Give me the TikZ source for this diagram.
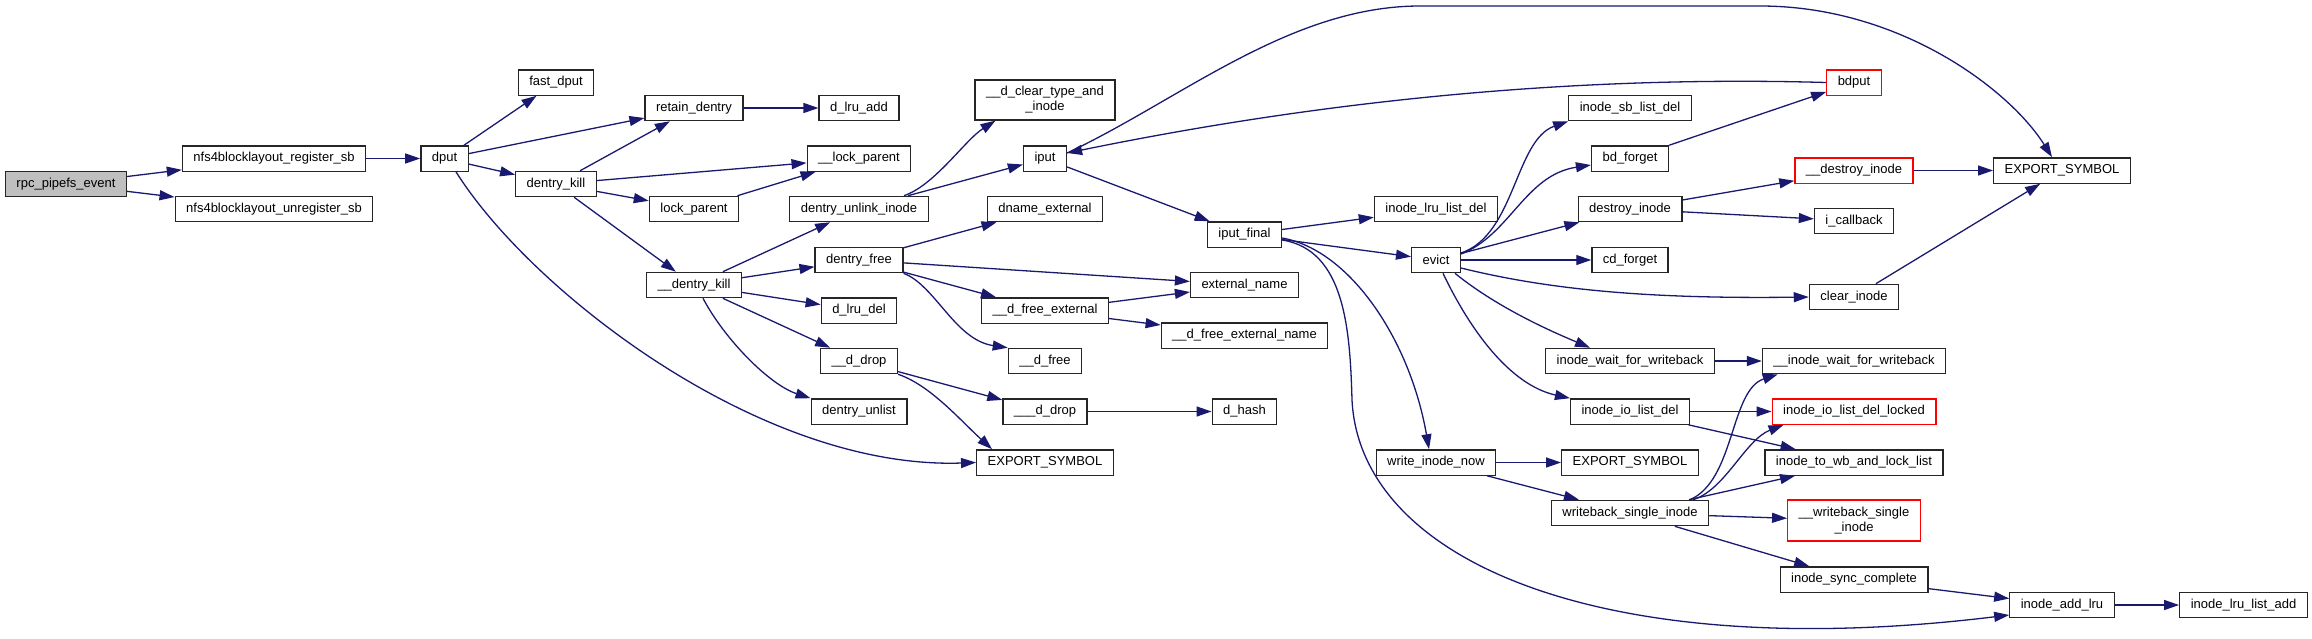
\documentclass[tikz,border=0pt]{standalone}
\usepackage{fontspec}
\setmainfont{Liberation Sans}
\usetikzlibrary{arrows.meta}

\definecolor{edgeblue}{HTML}{191970}
\definecolor{rootgray}{HTML}{BFBFBF}

\begin{document}
\begin{tikzpicture}[
    x=0.5pt,
    y=-0.5pt,
    >={Triangle[length=7.5pt, width=5pt]},
    func/.style={
        draw=black!85,
        line width=0.65pt,
        fill=white,
        font=\fontsize{6.5}{7.5}\selectfont,
        inner xsep=5.5pt,
        inner ysep=2pt,
        minimum height=12.65pt,
        align=center
    },
    root/.style={
        func,
        fill=rootgray
    },
    trunc/.style={
        func,
        draw=red
    },
    call/.style={
        ->,
        draw=edgeblue,
        line width=0.65pt
    }
]

\useasboundingbox (0,0) rectangle (2312,638);

% Horizontal positions of the ranks
\def\RootX{66}
\def\SbX{274}
\def\DputX{444.5}
\def\KillX{556}
\def\RetainX{694}
\def\LruAddX{859}
\def\IputX{1045}
\def\FinalX{1244.5}
\def\EvictX{1436}
\def\ForgetX{1630}
\def\BdputX{1854}
\def\ExportX{2062}
\def\LruListX{2243.5}

% ==================================================
% Functions
% ==================================================

\node[root] (rpcEvent) at (\RootX,184) {rpc\_pipefs\_event};

\node[func] (registerSb) at (\SbX,158.5) {nfs4blocklayout\_register\_sb};
\node[func] (unregisterSb) at (\SbX,209) {nfs4blocklayout\_unregister\_sb};

\node[func] (dput) at (\DputX,158.5) {dput};

\node[func] (fastDput) at (\KillX,82.5) {fast\_dput};
\node[func] (dentryKill) at (\KillX,184) {dentry\_kill};

\node[func] (retainDentry) at (\RetainX,108) {retain\_dentry};
\node[func] (lockParent) at (\RetainX,209) {lock\_parent};
\node[func] (uDentryKill) at (\RetainX,285) {\_\_dentry\_kill};

\node[func] (dLruAdd) at (\LruAddX,108) {d\_lru\_add};
\node[func] (uLockParent) at (\LruAddX,158.5) {\_\_lock\_parent};
\node[func] (unlinkInode) at (\LruAddX,209) {dentry\_unlink\_inode};
\node[func] (dentryFree) at (\LruAddX,260) {dentry\_free};
\node[func] (dLruDel) at (\LruAddX,310.5) {d\_lru\_del};
\node[func] (uDDrop) at (\LruAddX,361) {\_\_d\_drop};
\node[func] (dentryUnlist) at (\LruAddX,411.5) {dentry\_unlist};

\node[func, minimum height=20pt] (clearType) at (\IputX,100)
    {\_\_d\_clear\_type\_and\\\_inode};
\node[func] (iput) at (\IputX,158.5) {iput};
\node[func] (dnameExternal) at (\IputX,209) {dname\_external};
\node[func] (uFreeExternal) at (\IputX,310.5) {\_\_d\_free\_external};
\node[func] (uDFree) at (\IputX,361) {\_\_d\_free};
\node[func] (uuDDrop) at (\IputX,411.5) {\_\_\_d\_drop};
\node[func] (exportLeft) at (\IputX,462.5) {EXPORT\_SYMBOL};

\node[func] (iputFinal) at (\FinalX,234.5) {iput\_final};
\node[func] (externalName) at (\FinalX,285) {external\_name};
\node[func] (uFreeExternalName) at (\FinalX,335.5) {\_\_d\_free\_external\_name};
\node[func] (dHash) at (\FinalX,411.5) {d\_hash};

\node[func] (lruListDel) at (\EvictX,209) {inode\_lru\_list\_del};
\node[func] (evict) at (\EvictX,260) {evict};
\node[func] (writeInodeNow) at (\EvictX,462.5) {write\_inode\_now};

\node[func] (sbListDel) at (\ForgetX,108) {inode\_sb\_list\_del};
\node[func] (bdForget) at (\ForgetX,158.5) {bd\_forget};
\node[func] (destroyInode) at (\ForgetX,209) {destroy\_inode};
\node[func] (cdForget) at (\ForgetX,260) {cd\_forget};
\node[func] (waitWriteback) at (\ForgetX,361) {inode\_wait\_for\_writeback};
\node[func] (ioListDel) at (\ForgetX,411.5) {inode\_io\_list\_del};
\node[func] (exportMid) at (\ForgetX,462.5) {EXPORT\_SYMBOL};
\node[func] (wbSingle) at (\ForgetX,513) {writeback\_single\_inode};

\node[trunc] (bdput) at (\BdputX,82.5) {bdput};
\node[trunc] (uDestroyInode) at (\BdputX,170.5) {\_\_destroy\_inode};
\node[func] (iCallback) at (\BdputX,221) {i\_callback};
\node[func] (clearInode) at (\BdputX,297) {clear\_inode};
\node[func] (uWaitWriteback) at (\BdputX,361) {\_\_inode\_wait\_for\_writeback};
\node[trunc] (ioListDelLocked) at (\BdputX,411.5) {inode\_io\_list\_del\_locked};
\node[func] (toWbLock) at (\BdputX,462.5) {inode\_to\_wb\_and\_lock\_list};
\node[trunc, minimum height=20.5pt] (uWbSingle) at (\BdputX,520.5)
    {\_\_writeback\_single\\\_inode};
\node[func] (syncComplete) at (\BdputX,579.5) {inode\_sync\_complete};

\node[func] (exportRight) at (\ExportX,170.5) {EXPORT\_SYMBOL};
\node[func] (addLru) at (\ExportX,605) {inode\_add\_lru};

\node[func] (lruListAdd) at (\LruListX,605) {inode\_lru\_list\_add};

% ==================================================
% Calls
% ==================================================

% rpc_pipefs_event and dput
\draw[call] (rpcEvent) -- (registerSb);
\draw[call] (rpcEvent) -- (unregisterSb);
\draw[call] (registerSb) -- (dput);
\draw[call] (dput) -- (fastDput);
\draw[call] (dput) -- (retainDentry);
\draw[call] (dput) -- (dentryKill);
\draw[call] ([xshift=5.75pt]dput.south)
    .. controls (530,290) and (760,470) .. (exportLeft.west);

% dentry_kill
\draw[call] (retainDentry) -- (dLruAdd);
\draw[call] (dentryKill) -- (retainDentry);
\draw[call] (dentryKill) -- (uLockParent);
\draw[call] (dentryKill) -- (lockParent);
\draw[call] (dentryKill) -- (uDentryKill);
\draw[call] (lockParent) -- (uLockParent);

% __dentry_kill
\draw[call] (uDentryKill) -- (unlinkInode);
\draw[call] (uDentryKill) -- (dentryFree);
\draw[call] (uDentryKill) -- (dLruDel);
\draw[call] (uDentryKill) -- (uDDrop);
\draw[call] ([xshift=4.5pt]uDentryKill.south)
    .. controls (725,340) and (770,385) .. (dentryUnlist.north west);

% dentry_unlink_inode
\draw[call] (unlinkInode) -- (iput);
\draw[call] ([xshift=22.5pt]unlinkInode.north)
    .. controls (935,185) and (965,140) .. ([xshift=10.5pt]clearType.south west);

% dentry_free
\draw[call] (dentryFree) -- (dnameExternal);
\draw[call] (dentryFree) -- (externalName);
\draw[call] (dentryFree) -- (uFreeExternal);
\draw[call] (dentryFree.south east)
    .. controls (935,285) and (955,340) .. (uDFree.north west);
\draw[call] (uFreeExternal) -- (externalName);
\draw[call] (uFreeExternal) -- (uFreeExternalName);

% __d_drop
\draw[call] (uDDrop) -- (uuDDrop);
\draw[call] (uDDrop.south east)
    .. controls (930,385) and (960,420) .. ([xshift=8pt]exportLeft.north west);
\draw[call] (uuDDrop) -- (dHash);

% iput and bdput
\draw[call] (iput) -- (iputFinal);
\draw[call] ([yshift=2.75pt]iput.east)
    .. controls (1180,100) and (1290,6) .. (1420,6)
    -- (1760,6)
    .. controls (1900,6) and (2010,90) .. ([xshift=-5pt]exportRight.north);
\draw[call] (bdput.west)
    .. controls (1600,76) and (1350,95) .. ([yshift=2.75pt]iput.east);

% iput_final
\draw[call] (iputFinal) -- (lruListDel);
\draw[call] (iputFinal) -- (evict);
\draw[call] ([yshift=-1.75pt]iputFinal.east)
    .. controls (1350,250) and (1410,340) .. ([xshift=-3.5pt]writeInodeNow.north);
\draw[call] ([yshift=-2.75pt]iputFinal.east)
    .. controls (1345,250) and (1350,330) .. (1352,400)
    .. controls (1360,560) and (1600,665) .. ([yshift=-5pt]addLru.west);

% evict
\draw[call] ([yshift=3.5pt]evict.east)
    .. controls (1515,235) and (1515,140) .. (sbListDel.south west);
\draw[call] ([yshift=3pt]evict.east)
    .. controls (1510,235) and (1525,175) .. ([yshift=-3.25pt]bdForget.west);
\draw[call] (evict) -- (destroyInode);
\draw[call] (evict) -- (cdForget);
\draw[call] ([yshift=-4pt]evict.east)
    .. controls (1550,290) and (1650,299) .. (clearInode.west);
\draw[call] ([xshift=9.5pt]evict.south)
    .. controls (1500,310) and (1560,335) .. ([xshift=-20pt]waitWriteback.north);
\draw[call] ([xshift=3.5pt]evict.south)
    .. controls (1470,330) and (1510,385) .. (ioListDel.north west);

% callees of evict
\draw[call] (bdForget) -- (bdput);
\draw[call] (destroyInode) -- (uDestroyInode);
\draw[call] (destroyInode) -- (iCallback);
\draw[call] (uDestroyInode) -- (exportRight);
\draw[call] (clearInode) -- (exportRight);
\draw[call] (waitWriteback) -- (uWaitWriteback);
\draw[call] (ioListDel) -- (ioListDelLocked);
\draw[call] (ioListDel) -- (toWbLock);

% write_inode_now and writeback_single_inode
\draw[call] (writeInodeNow) -- (exportMid);
\draw[call] (writeInodeNow) -- (wbSingle);
\draw[call] ([xshift=30pt]wbSingle.north)
    .. controls (1735,480) and (1730,390) .. ([xshift=8pt]uWaitWriteback.south west);
\draw[call] ([xshift=31.5pt]wbSingle.north)
    .. controls (1725,490) and (1745,440) .. ([xshift=6pt]ioListDelLocked.south west);
\draw[call] (wbSingle) -- (toWbLock);
\draw[call] (wbSingle) -- (uWbSingle);
\draw[call] (wbSingle) -- (syncComplete);
\draw[call] (syncComplete) -- (addLru);
\draw[call] (addLru) -- (lruListAdd);

\end{tikzpicture}
\end{document}
